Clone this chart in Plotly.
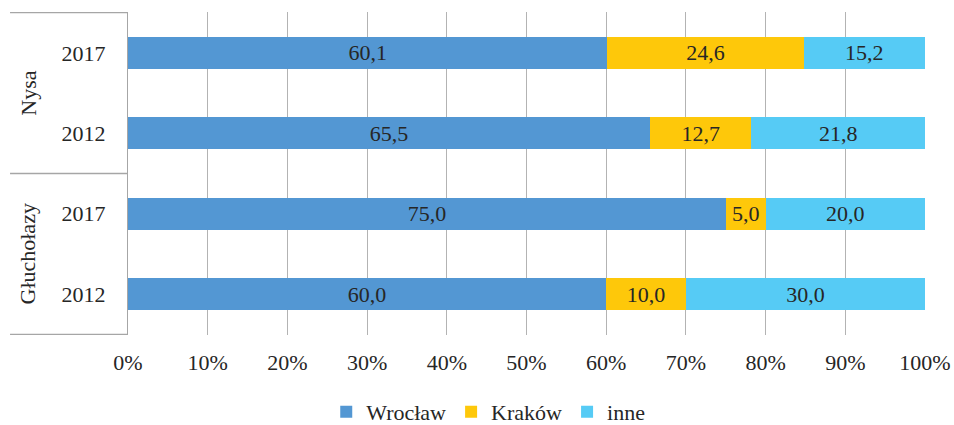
import plotly.graph_objects as go

groups = ["Nysa", "Nysa", "Głuchołazy", "Głuchołazy"]
years = ["2017", "2012", "2017", "2012"]
categories = [f"{g} {y}" for g, y in zip(groups, years)]
wroclaw = [60.1, 65.5, 75.0, 60.0]
krakow = [24.6, 12.7, 5.0, 10.0]
inne = [15.2, 21.8, 20.0, 30.0]
series_names = ["Wrocław", "Kraków", "inne"]
colors = ["#5397d3", "#fec80a", "#56cbf5"]
x_ticks = [0, 10, 20, 30, 40, 50, 60, 70, 80, 90, 100]
x_tick_labels = [f"{t}%" for t in x_ticks]

FONT = "Liberation Serif, Times New Roman, serif"
FS = 22

fig = go.Figure()
for name, vals, col in zip(series_names, [wroclaw, krakow, inne], colors):
    fig.add_trace(go.Bar(
        y=categories, x=vals, name=name, orientation="h",
        marker=dict(color=col, line=dict(width=0)),
        text=[f"{v:.1f}".replace(".", ",") for v in vals],
        textposition="inside", insidetextanchor="middle",
        textfont=dict(family=FONT, size=FS, color="#262626"),
        textangle=0, hoverinfo="skip",
    ))

fig.update_layout(
    barmode="stack", barnorm="percent", bargap=0.6,
    width=954, height=425,
    margin=dict(l=128, r=29, t=12, b=90, autoexpand=False),
    plot_bgcolor="white", paper_bgcolor="white",
    font=dict(family=FONT, size=FS, color="#262626"),
    showlegend=True,
    legend=dict(orientation="h", x=0.452, xanchor="center", y=-0.238, yanchor="middle",
                font=dict(family=FONT, size=FS, color="#262626"),
                traceorder="normal", itemwidth=30),
)
fig.update_xaxes(
    range=[0, 100], tickmode="array", tickvals=x_ticks, ticktext=x_tick_labels,
    showgrid=True, gridcolor="#b3b3b3", gridwidth=1.3,
    zeroline=False, showline=False, ticks="", ticklabelstandoff=12, automargin=False,
    tickfont=dict(family=FONT, size=FS, color="#262626"),
)
fig.update_yaxes(
    categoryorder="array", categoryarray=categories, autorange="reversed",
    tickvals=categories, ticktext=years, automargin=False,
    showgrid=False, zeroline=False, showline=True, linecolor="#a6a6a6", linewidth=1.3,
    ticks="", ticklabelstandoff=17,
    tickfont=dict(family=FONT, size=FS, color="#262626"),
)
for label, pos in [("Nysa", 0.5), ("Głuchołazy", 2.5)]:
    fig.add_annotation(x=-0.126, xref="paper", y=pos, yref="y", text=label,
                       textangle=-90, showarrow=False, xanchor="center", yanchor="middle",
                       font=dict(family=FONT, size=FS, color="#262626"))
for pos in [-0.5, 1.5, 3.5]:
    fig.add_shape(type="line", xref="paper", yref="y", x0=-0.148, x1=0, y0=pos, y1=pos,
                  line=dict(color="#a6a6a6", width=1.3))

fig.write_html("out.html", config={"displayModeBar": False},
               post_script="document.body.style.margin='0';")
